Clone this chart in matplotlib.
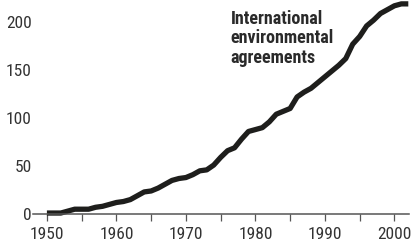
import numpy as np
import matplotlib
matplotlib.use("Agg")
import matplotlib.pyplot as plt
from matplotlib import font_manager

# data
years = list(range(1950, 2003))
agreements = [1, 1, 1, 3, 5, 5, 5, 7, 8, 10,
              12, 13, 15, 19, 23, 24, 27, 31, 35, 37,
              38, 41, 45, 46, 51, 59, 66, 69, 78, 86,
              88, 90, 96, 104, 107, 110, 122, 127, 131, 137,
              143, 149, 155, 162, 177, 185, 196, 202, 209, 213,
              217, 219, 219]
xticks = list(range(1950, 2001, 5))
xlabels = [str(y) if y % 10 == 0 else "" for y in xticks]
yticks = [0, 50, 100, 150, 200]

# pick a narrow-ish family if one is installed
installed = {f.name for f in font_manager.fontManager.ttflist}
family = "DejaVu Sans"
for name in ["Liberation Sans Narrow", "Roboto Condensed", "Liberation Sans"]:
    if name in installed:
        family = name
        break
plt.rcParams['font.family'] = [family, 'DejaVu Sans']

fig = plt.figure(figsize=(4.13, 2.49), dpi=100)
ax = fig.add_axes([33 / 413, 35 / 249, 376 / 413, 213 / 249])

ax.plot(years, agreements, color="#1e1e1c", lw=3.8, solid_capstyle="butt",
        solid_joinstyle="round", clip_on=False)

ax.set_xlim(1948, 2002.1)
ax.set_ylim(0, 222)

for s in ["top", "right", "left"]:
    ax.spines[s].set_visible(False)
ax.spines["bottom"].set_color("#555555")
ax.spines["bottom"].set_linewidth(1.1)

ax.set_xticks(xticks)
ax.set_xticklabels(xlabels)
ax.set_yticks(yticks)
ax.tick_params(axis="x", direction="out", length=5, width=0.9, color="#555555",
               pad=4, labelsize=12.5, labelcolor="#333333")
ax.tick_params(axis="y", length=0, pad=1, labelsize=12.5, labelcolor="#333333")

ax.text(1976.4, 213, "International\nenvironmental\nagreements", fontsize=13,
        fontweight="bold", color="#2a2a2a", va="top", ha="left",
        linespacing=1.12)

fig.savefig("out.png", dpi=100)
